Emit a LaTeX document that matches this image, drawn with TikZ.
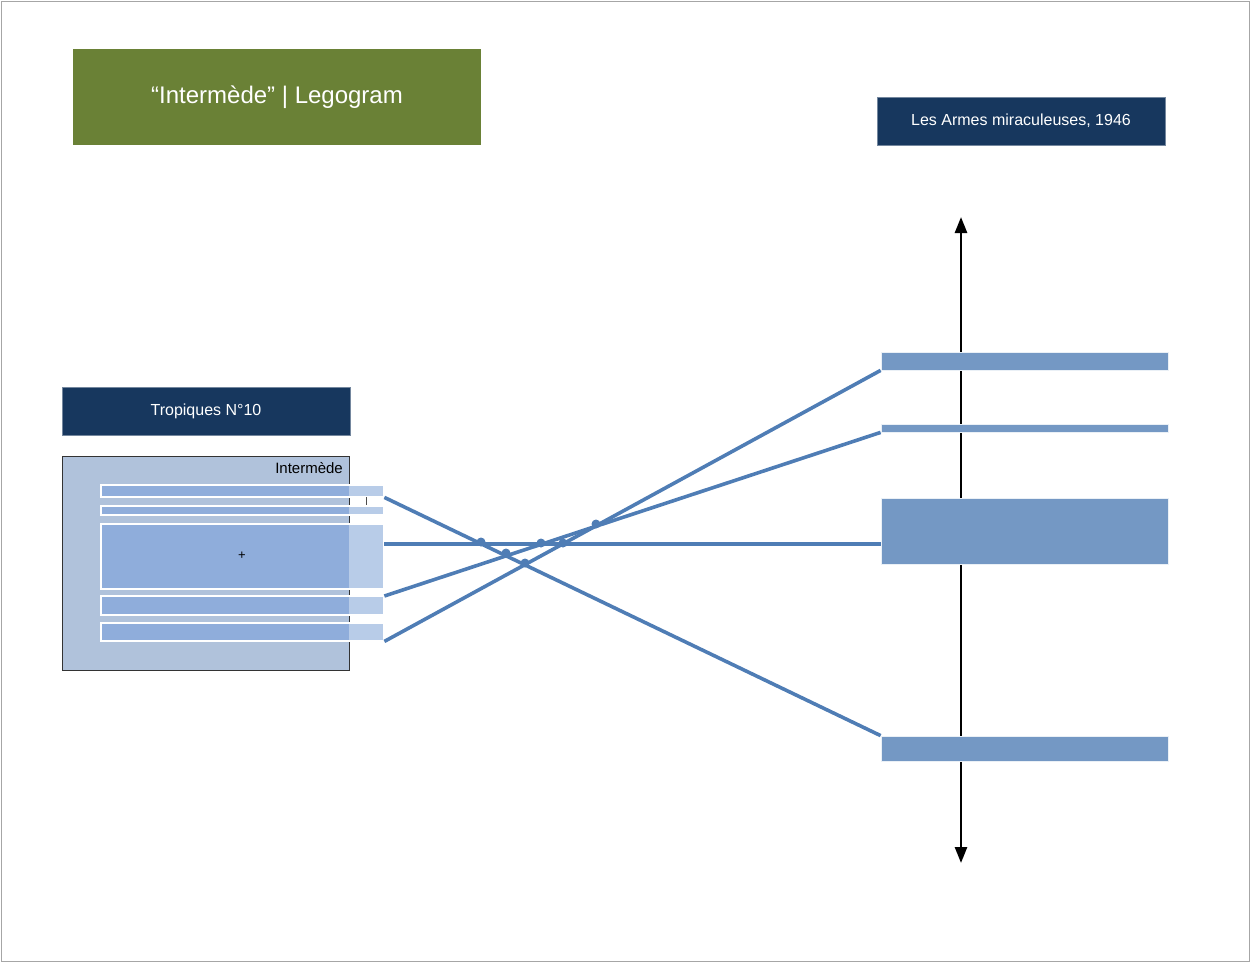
\documentclass[tikz,border=0pt]{standalone}
\usepackage{fontspec}
\setmainfont{Liberation Sans}
\usetikzlibrary{arrows.meta}
\definecolor{navy}{HTML}{17375E}
\definecolor{olive}{HTML}{6A8136}
\definecolor{boxbg}{HTML}{B0C2DB}
\definecolor{barin}{HTML}{8FADDB}
\definecolor{barout}{HTML}{B8CCE8}
\definecolor{rbar}{HTML}{7498C4}
\definecolor{link}{HTML}{4F7DB5}
\tikzset{
  titlebox/.style={fill=olive, text=white, font=\fontsize{24}{28}\selectfont, inner sep=0pt},
  headbox/.style={fill=navy, draw=navy!60!white, text=white, font=\fontsize{16}{19}\selectfont, inner sep=0pt},
  rightbar/.style={fill=rbar, draw=white!85!rbar, line width=0.8pt},
  linkline/.style={draw=link, line width=3.6pt},
  jump/.style={fill=link, circle, inner sep=0pt, minimum size=9pt},
}
\begin{document}
\begin{tikzpicture}[x=1pt,y=-1pt]
\useasboundingbox (0,0) rectangle (1250,962);
\draw[gray!70, line width=1pt] (1,1) rectangle (1249,961);
% headers
\node[titlebox, minimum width=408pt, minimum height=96pt] (title) at (277,97) {“Intermède” | Legogram};
\node[headbox, minimum width=288pt, minimum height=48pt] (armes) at (1021,121) {Les Armes miraculeuses, 1946};
\node[headbox, minimum width=288pt, minimum height=48pt] (trop) at (206,411) {Tropiques N°10};
% vertical axis
\coordinate (axtop) at (961,217);
\coordinate (axbot) at (961,863);
\draw[black, line width=2.6pt, {Triangle[length=16pt,width=12pt]}-{Triangle[length=16pt,width=12pt]}] (axbot) -- (axtop);
% right bars
\node[rightbar, minimum width=287pt, minimum height=18pt, inner sep=0pt] (r1) at (1024.5,361) {};
\node[rightbar, minimum width=287pt, minimum height=8pt, inner sep=0pt] (r2) at (1024.5,428) {};
\node[rightbar, minimum width=287pt, minimum height=66pt, inner sep=0pt] (r3) at (1024.5,531) {};
\node[rightbar, minimum width=287pt, minimum height=25pt, inner sep=0pt] (r4) at (1024.5,748.5) {};
% left box
\node[fill=boxbg, draw=black!80, line width=0.8pt, minimum width=287pt, minimum height=214pt, inner sep=0pt] (box) at (205.5,563) {};
\node[anchor=north east, inner sep=0pt, font=\fontsize{15}{18}\selectfont] (lbl) at (343,462) {Intermède};
% left bars: outside part lighter
\foreach \n/\ya/\yb in {a/485/497, b/506/515, c/524/589, d/596/615, e/623/641}{
  \fill[barout] (349,\ya) rectangle (384,\yb);
  \fill[barin] (101,\ya) rectangle (349,\yb);
  \draw[white, line width=1.2pt] (101,\ya) rectangle (384,\yb);
  \node[inner sep=0pt, minimum width=283pt, minimum height={\yb-\ya}, anchor=north west] (l\n) at (101,\ya) {};
}
\draw[black!70, line width=0.8pt] (366,497) -- (366,505);
\node[font=\fontsize{13}{15}\selectfont, inner sep=0pt] (plus) at (242,556) {+};
% connectors
\coordinate (cs) at (384,544);
\draw[linkline] (la.south east) -- (r4.north west);
\draw[linkline] (cs) -- (cs -| r3.west);
\draw[linkline] (ld.north east) -- (r2.south west);
\draw[linkline] (le.south east) -- (r1.south west);
% crossing dots
\foreach \x/\y [count=\i] in {481/542, 506/553, 541/543, 525/563, 563/543, 596/524}{
  \node[jump] (j\i) at (\x,\y) {};
}
\end{tikzpicture}
\end{document}
